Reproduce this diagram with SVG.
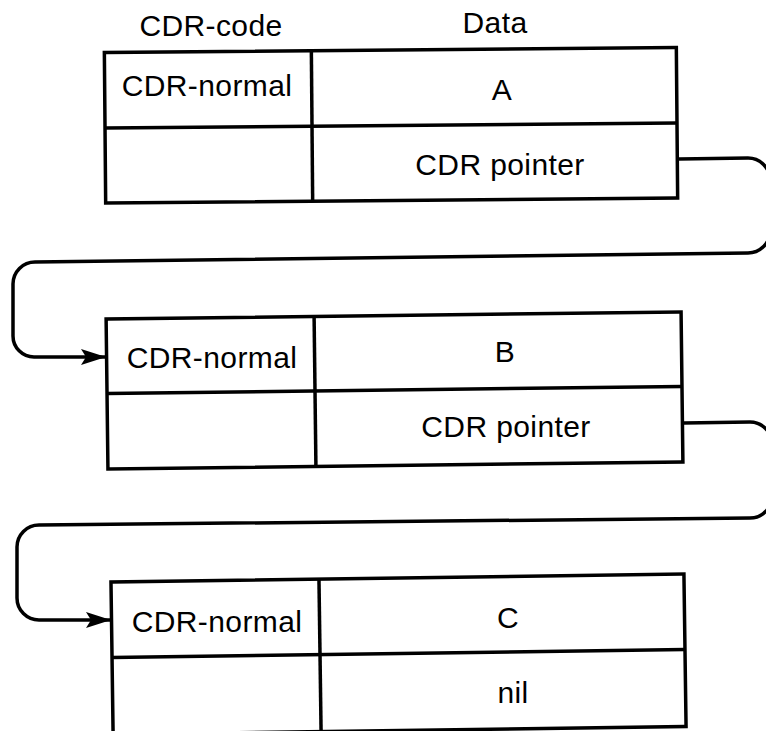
<svg xmlns="http://www.w3.org/2000/svg" width="766" height="731" viewBox="0 0 766 731">
  <style>
    .frame { fill: none; stroke: #000; stroke-width: 3.5; stroke-linejoin: miter; }
    .link { fill: none; stroke: #000; stroke-width: 3.5; stroke-linejoin: round; }
    text { font-family: "Liberation Sans", Arial, sans-serif; font-size: 30px; fill: #000; text-anchor: middle; letter-spacing: 0.4px; }
  </style>
  <defs>
    <marker id="arrow" markerUnits="userSpaceOnUse" markerWidth="28" markerHeight="20" refX="25" refY="9" orient="auto" overflow="visible">
      <path d="M0,1 L25,9 L0,17 L5,9 Z" fill="#000"/>
    </marker>
  </defs>

  <rect width="766" height="731" fill="#fff"/>

  <!-- column headers -->
  <g id="headers">
    <text x="211" y="36">CDR-code</text>
    <text x="495" y="33">Data</text>
  </g>

  <!-- cell A -->
  <g id="cell-a">
    <g class="frame" transform="rotate(-0.5 391 125)">
      <rect x="105" y="50" width="572" height="150.5"/>
      <line x1="105" y1="125.5" x2="677" y2="125.5"/>
      <line x1="312" y1="50" x2="312" y2="200.5"/>
    </g>
    <text x="207" y="96">CDR-normal</text>
    <text x="502" y="100">A</text>
    <text x="500" y="175">CDR pointer</text>
  </g>

  <!-- cell B -->
  <g id="cell-b">
    <g class="frame" transform="rotate(-0.7 394.5 390)">
      <rect x="107" y="315.5" width="575" height="150"/>
      <line x1="107" y1="390" x2="682" y2="390"/>
      <line x1="315" y1="315.5" x2="315" y2="465.5"/>
    </g>
    <text x="212" y="368">CDR-normal</text>
    <text x="505" y="362">B</text>
    <text x="506" y="437">CDR pointer</text>
  </g>

  <!-- cell C (bottom edge runs off the page on the left) -->
  <g id="cell-c">
    <g class="frame" transform="rotate(-0.8 398.5 653)">
      <rect x="112" y="578" width="573" height="152.5"/>
      <line x1="112" y1="653.5" x2="685" y2="653.5"/>
      <line x1="320" y1="578" x2="320" y2="730.5"/>
    </g>
    <text x="217" y="632">CDR-normal</text>
    <text x="508" y="628">C</text>
    <text x="513" y="703">nil</text>
  </g>

  <!-- CDR pointer links -->
  <g id="links">
    <path class="link" marker-end="url(#arrow)"
          d="M679,159 L748,158 A22,22 0 0 1 770,180 L770,231 A22,22 0 0 1 748,253 L35,262 A22,22 0 0 0 13,284 L13,336 A21,21 0 0 0 34,357 L106,357"/>
    <path class="link" marker-end="url(#arrow)"
          d="M684,423 L750,422 A22,22 0 0 1 772,444 L772,496 A22,22 0 0 1 750,518 L39,525 A22,22 0 0 0 17,547 L17,598 A22,22 0 0 0 39,620 L111,620"/>
  </g>
</svg>
